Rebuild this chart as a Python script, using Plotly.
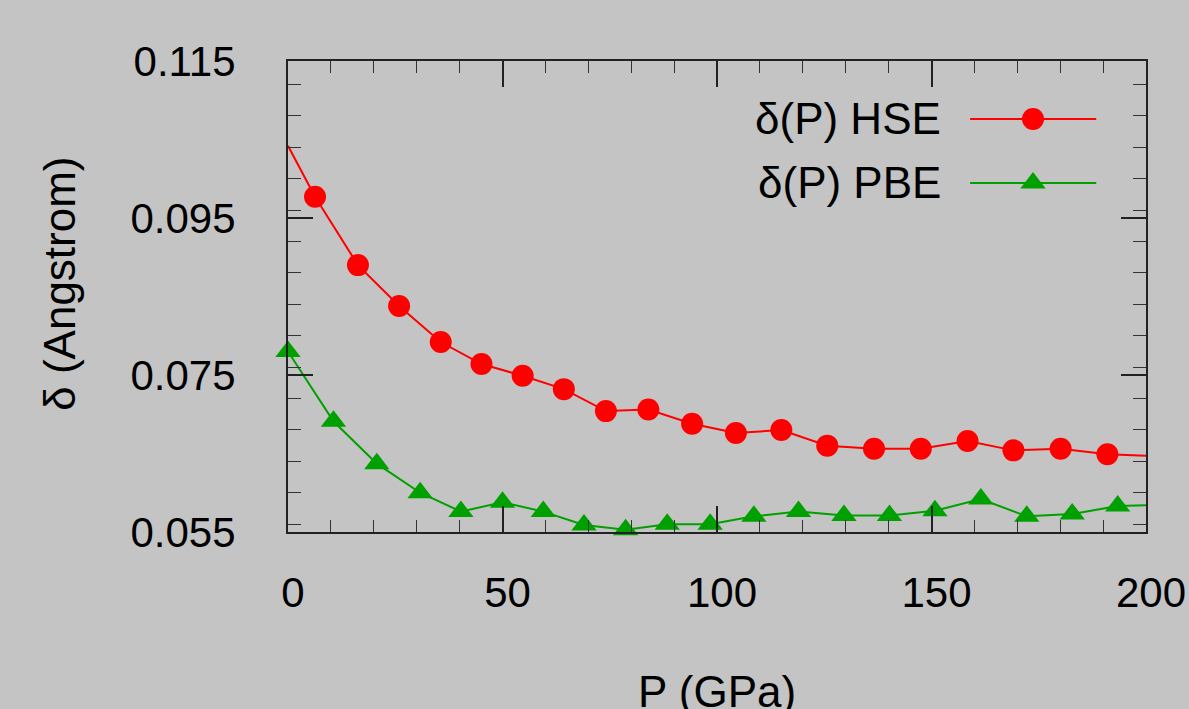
import plotly.graph_objects as go

# HSE data (P in GPa, delta in Angstrom); marked = drawn with a point symbol
hse_P = [0.0, 6.3, 16.3, 25.9, 35.6, 45.1, 54.7, 64.3, 74.1, 84.0, 94.2, 104.4,
         115.0, 125.7, 136.6, 147.5, 158.4, 169.1, 180.1, 191.0, 200.0]
hse_d = [0.1042, 0.0977, 0.0890, 0.0838, 0.0792, 0.0764, 0.0749, 0.0732, 0.0704,
         0.0706, 0.0688, 0.0676, 0.0680, 0.0660, 0.0656, 0.0656, 0.0666, 0.0654,
         0.0656, 0.0649, 0.0647]
hse_marked = [False] + [True] * 19 + [False]

# PBE data
pbe_P = [0.0, 10.6, 20.7, 30.8, 40.3, 50.0, 59.5, 69.0, 78.7, 88.4, 98.4, 108.6,
         119.0, 129.6, 140.2, 150.8, 161.5, 172.2, 182.8, 193.4, 200.0]
pbe_d = [0.0780, 0.0691, 0.0637, 0.0600, 0.0576, 0.0588, 0.0576, 0.0559, 0.0553,
         0.0560, 0.0560, 0.0570, 0.0576, 0.0571, 0.0571, 0.0577, 0.0592, 0.0570,
         0.0573, 0.0583, 0.0584]
pbe_marked = [True] * 20 + [False]

x_ticks = [0, 50, 100, 150, 200]
y_ticks = [0.055, 0.075, 0.095, 0.115]
y_ticklabels = ["0.055", "0.075", "0.095", "0.115"]

series_names = ["δ(P) HSE", "δ(P) PBE"]
RED = "#ff0000"
GREEN = "#00a000"
BG = "#c3c4c3"
FONT = "Liberation Sans, Arial, sans-serif"
FS = 44
FS_TICK = 42

fig = go.Figure()

fig.add_trace(go.Scatter(
    x=hse_P, y=hse_d, mode="lines+markers",
    line=dict(color=RED, width=2),
    marker=dict(symbol="circle", color=RED, opacity=1,
                size=[22 if m else 0 for m in hse_marked], line=dict(width=0)),
    cliponaxis=False, showlegend=False))

fig.add_trace(go.Scatter(
    x=pbe_P, y=pbe_d, mode="lines+markers",
    line=dict(color=GREEN, width=2),
    marker=dict(symbol="triangle-up", color=GREEN, opacity=1,
                size=[22 if m else 0 for m in pbe_marked], line=dict(width=0)),
    cliponaxis=False, showlegend=False))

# gnuplot-style key (text to the left of the sample) on an overlay axis in [0,1]
key_rows = [0.877, 0.741]
key_styles = [(RED, "circle"), (GREEN, "triangle-up")]
for name, yk, (col, sym) in zip(series_names, key_rows, key_styles):
    fig.add_trace(go.Scatter(
        x=[0.795, 0.942], y=[yk, yk], mode="lines", line=dict(color=col, width=2),
        xaxis="x2", yaxis="y2", showlegend=False, hoverinfo="skip"))
    fig.add_trace(go.Scatter(
        x=[0.8683], y=[yk], mode="markers",
        marker=dict(symbol=sym, color=col, size=22, opacity=1),
        xaxis="x2", yaxis="y2", showlegend=False, hoverinfo="skip"))
    fig.add_annotation(x=0.7634, y=yk, xref="x2", yref="y2", text=name, showarrow=False,
                       xanchor="right", yanchor="middle",
                       font=dict(family=FONT, size=FS, color="black"))

axis_common = dict(
    showgrid=False, zeroline=False, showline=True, linecolor="#222", linewidth=2,
    mirror="allticks", ticks="inside", tickcolor="#222", tickwidth=1.5,
    tickfont=dict(family=FONT, size=FS_TICK, color="black"), automargin=False,
)

fig.update_layout(
    width=1189, height=709,
    paper_bgcolor=BG, plot_bgcolor=BG,
    margin=dict(l=288, r=43, t=61, b=177),
    xaxis=dict(range=[0, 200], tickvals=x_ticks, ticklen=26,
               minor=dict(ticks="inside", dtick=10, ticklen=12, tickcolor="#333", tickwidth=1.2),
               ticklabelstandoff=23, ticklabelshift=5, **axis_common),
    yaxis=dict(range=[0.055, 0.115], tickvals=y_ticks, ticktext=y_ticklabels, ticklen=25,
               minor=dict(ticks="inside", dtick=0.004, ticklen=13, tickcolor="#333", tickwidth=1.2),
               ticklabelstandoff=42, **axis_common),
    xaxis2=dict(range=[0, 1], overlaying="x", visible=False, fixedrange=True),
    yaxis2=dict(range=[0, 1], overlaying="y", visible=False, fixedrange=True),
    showlegend=False,
)

fig.add_annotation(x=-0.2657, y=0.527, xref="paper", yref="paper", text="δ (Angstrom)",
                   textangle=-90, showarrow=False, xanchor="center", yanchor="middle",
                   font=dict(family=FONT, size=FS, color="black"))
fig.add_annotation(x=0.5, y=-0.282, xref="paper", yref="paper", text="P (GPa)",
                   showarrow=False, xanchor="center", yanchor="top",
                   font=dict(family=FONT, size=FS, color="black"))

fig.write_html("out.html", config={"displayModeBar": False},
               post_script=("document.body.style.margin='0';"
                            "document.body.style.overflow='hidden';"
                            "document.documentElement.style.overflow='hidden';"
                            "document.body.style.background='" + BG + "';"))
